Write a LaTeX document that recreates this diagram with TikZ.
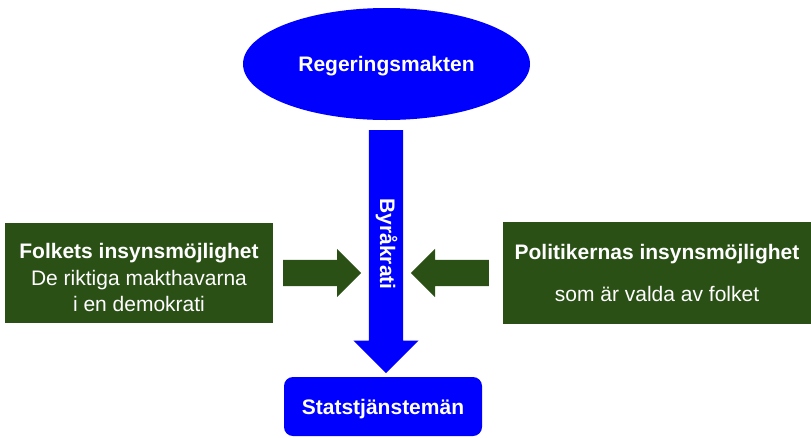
\documentclass[tikz,border=0pt]{standalone}
\usepackage{fontspec}
\setmainfont{Liberation Sans}
\usetikzlibrary{shapes.geometric,shapes.arrows}
\definecolor{govblue}{RGB}{0,0,255}
\definecolor{boxgreen}{RGB}{42,80,22}

\begin{document}
\begin{tikzpicture}[x=1pt,y=-1pt,
    bluebox/.style={fill=govblue,text=white,font=\fontsize{21}{26}\selectfont\bfseries,
      text height=15pt,text depth=0pt,inner sep=0pt},
    greenbox/.style={fill=boxgreen,text=white,font=\fontsize{21}{26.5}\selectfont,
      align=center,inner sep=0pt},
    bluearrow/.style={single arrow,fill=govblue,inner sep=17pt,
      single arrow head extend=15.5pt,minimum height=243pt},
    greenarrow/.style={single arrow,fill=boxgreen,inner sep=13pt,
      single arrow head extend=11pt,minimum height=78pt}]
  \useasboundingbox (0,0) rectangle (811,437);

  % blue column
  \node[bluearrow,shape border rotate=270,anchor=tail] (byr) at (386,130) {};
  \node[bluebox,ellipse,minimum width=287pt,minimum height=112pt] (reg) at (386.5,64) {Regeringsmakten};
  \node[bluebox,rotate=-90] (byrtext) at (387.5,244) {Byråkrati};
  \node[bluebox,rounded corners=9pt,minimum width=198pt,minimum height=59pt] (stat) at (383,406.5) {Statstjänstemän};

  % green boxes and arrows
  \node[greenbox,minimum width=268pt,minimum height=100pt] (folk) at (139,273)
    {\rule{0pt}{25pt}\textbf{Folkets insynsmöjlighet}\\De riktiga makthavarna\\i en demokrati};
  \node[greenbox,minimum width=308pt,minimum height=102pt] (pol) at (657,273)
    {\textbf{Politikernas insynsmöjlighet}\\[15.5pt]som är valda av folket};
  \node[greenarrow,anchor=tail] (folkpil) at (283,273) {};
  \node[greenarrow,shape border rotate=180,anchor=tail] (polpil) at (489,273) {};
\end{tikzpicture}
\end{document}
